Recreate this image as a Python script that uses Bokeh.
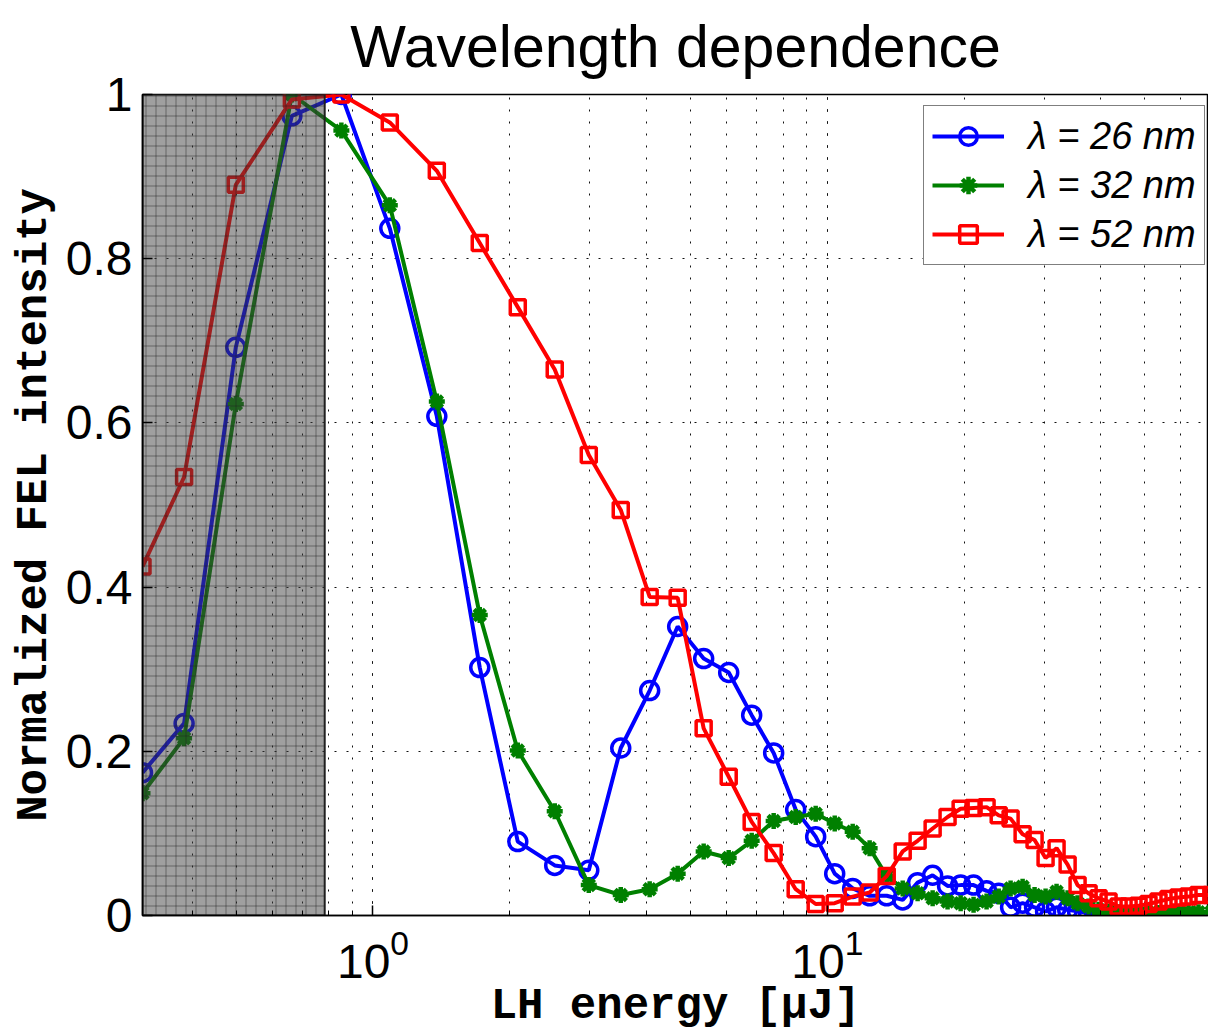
from bokeh.plotting import figure
from bokeh.models import CustomJSTickFormatter, Legend, LegendItem, FixedTicker
from bokeh.embed import file_html
from bokeh.resources import INLINE

# LH energy [uJ]
energy = [0.311, 0.384, 0.499, 0.663, 0.852, 1.089, 1.382, 1.718, 2.083, 2.512,
          2.985, 3.510, 4.064, 4.684, 5.343, 6.066, 6.815, 7.618, 8.518, 9.426,
          10.38, 11.37, 12.39, 13.51, 14.65, 15.80, 17.05, 18.39, 19.65, 20.98,
          22.41, 23.83, 25.31, 26.90, 28.58, 30.22, 31.95, 33.79, 35.54, 37.58,
          39.53, 41.58, 43.75, 46.02, 48.41, 50.91, 53.56, 56.34, 59.27, 62.35,
          65.59, 70.0]

lam26 = [0.174, 0.234, 0.692, 0.974, 1.0, 0.837, 0.608, 0.302, 0.090, 0.061,
         0.055, 0.204, 0.274, 0.352, 0.313, 0.296, 0.244, 0.198, 0.129, 0.096,
         0.051, 0.033, 0.024, 0.024, 0.019, 0.040, 0.049, 0.036, 0.037, 0.037,
         0.030, 0.027, 0.010, 0.015, 0.010, 0.005, 0.010, 0.007, 0.005, 0.003,
         0.001, -0.001, -0.002, -0.003, -0.004, -0.005, -0.006, -0.007, -0.008, -0.008,
         -0.009, -0.010]

lam32 = [0.149, 0.216, 0.623, 1.0, 0.956, 0.865, 0.626, 0.366, 0.201, 0.127,
         0.037, 0.025, 0.032, 0.051, 0.078, 0.070, 0.091, 0.115, 0.120, 0.124,
         0.112, 0.102, 0.082, 0.048, 0.033, 0.027, 0.021, 0.017, 0.015, 0.013,
         0.017, 0.023, 0.033, 0.035, 0.025, 0.023, 0.029, 0.021, 0.015, 0.011,
         0.007, 0.005, 0.004, 0.003, 0.003, 0.003, 0.003, 0.003, 0.004, 0.004,
         0.004, 0.004]

lam52 = [0.425, 0.534, 0.890, 0.994, 1.0, 0.966, 0.907, 0.819, 0.741, 0.665,
         0.561, 0.494, 0.388, 0.387, 0.228, 0.169, 0.114, 0.076, 0.032, 0.014,
         0.015, 0.023, 0.028, 0.048, 0.078, 0.091, 0.106, 0.120, 0.130, 0.131,
         0.132, 0.122, 0.118, 0.099, 0.092, 0.070, 0.082, 0.062, 0.037, 0.027,
         0.021, 0.017, 0.011, 0.011, 0.012, 0.014, 0.017, 0.020, 0.022, 0.023,
         0.025, 0.025]

labels = ["λ = 26 nm", "λ = 32 nm", "λ = 52 nm"]
colors = ["#0000ff", "#008000", "#ff0000"]
markers = ["circle", "asterisk", "square"]

shade_x = [0.311, 0.783]
shade_y = [0.0, 1.0]
y_ticks = [0, 0.2, 0.4, 0.6, 0.8, 1.0]

p = figure(frame_width=1066, frame_height=821, x_axis_type="log",
           x_range=(0.311, 69.0), y_range=(0, 1),
           output_backend="svg", toolbar_location=None,
           min_border_left=142, min_border_right=0, min_border_top=94, min_border_bottom=118,
           background_fill_color="white", border_fill_color="white")

p.title.text = "Wavelength dependence"
p.title.text_font = "Liberation Sans"
p.title.text_font_size = "59px"
p.title.text_font_style = "normal"
p.title.text_color = "black"
p.title.align = "center"
p.title.vertical_align = "top"
p.title.standoff = 25

p.outline_line_color = "black"
p.outline_line_width = 1.5

# grids
for g in (p.xgrid, p.ygrid):
    g.grid_line_color = "#111111"
    g.grid_line_dash = "2 10"
    g.grid_line_width = 1
p.xgrid.minor_grid_line_color = "#111111"
p.xgrid.minor_grid_line_dash = "2 10"
p.xgrid.minor_grid_line_width = 1

tick_font = "Liberation Sans"
p.yaxis.ticker = FixedTicker(ticks=y_ticks)
p.yaxis.formatter = CustomJSTickFormatter(code="return String(Math.round(tick*10)/10);")
for ax in (p.xaxis[0], p.yaxis[0]):
    ax.major_tick_in = 10
    ax.major_tick_out = 0
    ax.minor_tick_in = 5
    ax.minor_tick_out = 0
    ax.axis_line_width = 1.5
    ax.major_tick_line_width = 1.5
    ax.major_label_text_font = tick_font
    ax.major_label_text_font_size = "48px"
    ax.axis_label_text_font = "Liberation Mono"
    ax.axis_label_text_font_style = "bold"
    ax.axis_label_text_font_size = "44px"
    ax.axis_label_text_color = "black"
    ax.major_label_text_color = "black"
p.yaxis.minor_tick_line_color = None
p.xaxis.major_label_standoff = 13
p.yaxis.major_label_standoff = 10
p.xaxis.axis_label = "LH energy [μJ]"
p.yaxis.axis_label = "Normalized FEL intensity"
p.xaxis.axis_label_standoff = 0
p.yaxis.axis_label_standoff = 4

items = []
for ys, lab, col, mk in zip([lam26, lam32, lam52], labels, colors, markers):
    ln = p.line(energy, ys, line_color=col, line_width=4)
    if mk == "asterisk":
        sc = p.scatter(energy, ys, marker=mk, size=16, line_color=col, line_width=4.5,
                       fill_color=col)
    elif mk == "circle":
        sc = p.scatter(energy, ys, marker=mk, size=18, line_color=col, line_width=3.5,
                       fill_color=None)
    else:
        sc = p.scatter(energy, ys, marker=mk, size=15, line_color=col, line_width=3.5,
                       fill_color=None)
    items.append(LegendItem(label=lab, renderers=[ln, sc]))

# shaded (excluded) region, drawn over the curves
p.quad(left=[shade_x[0]], right=[shade_x[1]], bottom=[shade_y[0]], top=[shade_y[1]],
       fill_color="#404040", fill_alpha=0.5,
       hatch_pattern="+", hatch_color="#202020", hatch_alpha=0.45, hatch_scale=10,
       hatch_weight=1, line_color="#202020", line_width=2)

legend = Legend(items=items, location=(781, 650), margin=0,
                label_text_font="Liberation Sans", label_text_font_style="italic",
                label_text_font_size="38px", label_text_color="black",
                glyph_width=72, glyph_height=44, label_height=44,
                spacing=5, padding=8, label_standoff=24,
                border_line_color="black", border_line_width=1.5,
                background_fill_color="white", background_fill_alpha=1)
p.add_layout(legend)

open("out.html", "w").write(file_html(p, INLINE))
